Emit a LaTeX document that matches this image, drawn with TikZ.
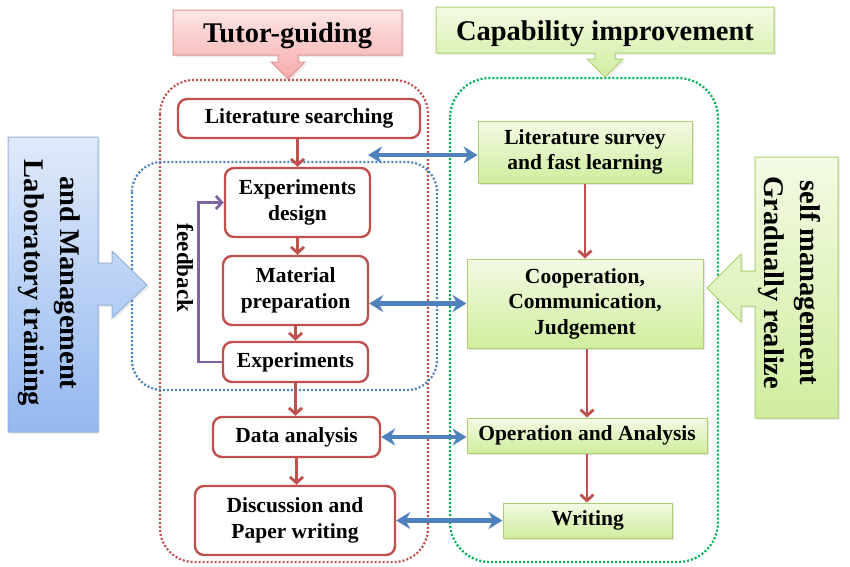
\documentclass[tikz,border=0pt]{standalone}
\usepackage{fontspec}
\setmainfont{Liberation Serif}
\usetikzlibrary{arrows.meta,positioning,shadows}

\definecolor{tgred}{RGB}{192,80,77}
\definecolor{tgblue}{RGB}{79,129,189}
\definecolor{tggreen}{RGB}{0,176,80}
\definecolor{tgpurple}{RGB}{128,100,162}
\definecolor{gntop}{RGB}{244,250,228}
\definecolor{gnbot}{RGB}{208,237,158}
\definecolor{gnline}{RGB}{172,208,112}
\definecolor{pktop}{RGB}{253,230,230}
\definecolor{pkbot}{RGB}{247,170,170}
\definecolor{pkline}{RGB}{217,150,148}
\definecolor{bltop}{RGB}{224,234,250}
\definecolor{blbot}{RGB}{148,184,240}
\definecolor{blline}{RGB}{149,179,215}

\newcommand{\boxfont}{\fontsize{21.5}{25.5}\selectfont\bfseries}
\newcommand{\headfont}{\fontsize{28.5}{36}\selectfont\bfseries}
\newcommand{\fbfont}{\fontsize{23}{26}\selectfont\bfseries}

\tikzset{
  stepnode/.style={draw=tgred,line width=2.4pt,rounded corners=9pt,fill=white,
    align=center,font=\boxfont,inner sep=0pt},
  skillnode/.style={draw=gnline,line width=1pt,top color=gntop,bottom color=gnbot,
    drop shadow={opacity=0.2,shadow xshift=2pt,shadow yshift=-2pt},
    align=center,font=\boxfont,inner sep=0pt},
  flow/.style={-{Straight Barb[length=6pt,width=13pt]},tgred,line width=2.8pt},
  link/.style={{Stealth[length=14pt,width=17pt]}-{Stealth[length=14pt,width=17pt]},
    tgblue,line width=4.2pt},
  fbline/.style={-{Straight Barb[length=6pt,width=13pt]},tgpurple,line width=2.8pt},
  frame/.style={dash pattern=on 2pt off 2pt,line width=2.2pt},
  callout/.style={line width=1pt,drop shadow={opacity=0.15,shadow xshift=2pt,shadow yshift=-2pt}},
}

\begin{document}
\begin{tikzpicture}[x=1pt,y=-1pt]
  \useasboundingbox (0,0) rectangle (850,566);

  % dotted groups
  \draw[frame,tgred,rounded corners=34pt] (160,80) rectangle (428,562);
  \draw[frame,tggreen,rounded corners=40pt] (450,78) rectangle (718,562);
  \draw[frame,tgblue,rounded corners=30pt] (132,162) rectangle (437,390);

  % headings with arrows
  \shade[callout,draw=pkline,top color=pktop,bottom color=pkbot]
    (173,10) -- (402,10) -- (402,55) -- (298,55) -- (298,62) -- (305,62) -- (288,79)
    -- (271,62) -- (278,62) -- (278,55) -- (173,55) -- cycle;
  \node[font=\headfont] (tutor) at (287.5,35.5) {Tutor-guiding};
  \shade[callout,draw=gnline,top color=gntop,bottom color=gnbot]
    (436,7) -- (774,7) -- (774,53) -- (615,53) -- (615,59) -- (623,59) -- (605,77)
    -- (587,59) -- (595,59) -- (595,53) -- (436,53) -- cycle;
  \node[font=\headfont] (capab) at (605,33.5) {Capability improvement};

  % side blocks
  \shade[callout,draw=blline,top color=bltop,bottom color=blbot]
    (8,137) -- (98,137) -- (98,263) -- (112,263) -- (112,251) -- (147,285) -- (112,318)
    -- (112,305) -- (98,305) -- (98,432) -- (8,432) -- cycle;
  \node[rotate=-90,font=\headfont,align=center] (labtrain) at (49,283)
    {and Management\\Laboratory training};
  \shade[callout,draw=gnline,top color=gntop,bottom color=gnbot]
    (755,157) -- (838,157) -- (838,418) -- (755,418) -- (755,306) -- (741,306)
    -- (741,322) -- (707,288) -- (741,254) -- (741,271) -- (755,271) -- cycle;
  \node[rotate=-90,font=\headfont,align=center] (selfman) at (789,283)
    {self management\\Gradually realize};

  % tutor side
  \node[stepnode,minimum width=242pt,minimum height=39pt] (litsearch) at (299,118.5) {Literature searching};
  \node[stepnode,minimum width=145pt,minimum height=69pt] (expdesign) at (297.5,202.5) {Experiments\\design};
  \node[stepnode,minimum width=145pt,minimum height=69pt] (matprep) at (295.5,290.5) {Material\\preparation};
  \node[stepnode,minimum width=145pt,minimum height=40pt] (experiments) at (295.5,362) {Experiments};
  \node[stepnode,minimum width=167pt,minimum height=40pt] (dataanal) at (296.5,437) {Data analysis};
  \node[stepnode,minimum width=200pt,minimum height=69pt] (discuss) at (295,520.5) {Discussion and\\Paper writing};

  % student side
  \node[skillnode,minimum width=214pt,minimum height=62pt] (litsurvey) at (585,152) {Literature survey\\and fast learning};
  \node[skillnode,minimum width=236pt,minimum height=89pt] (coop) at (585,303.5) {Cooperation,\\Communication,\\Judgement};
  \node[skillnode,minimum width=240pt,minimum height=35pt] (operation) at (587,435.5) {Operation and Analysis};
  \node[skillnode,minimum width=169pt,minimum height=35pt] (writing) at (587.5,520.5) {Writing};

  \draw[flow] (expdesign.north |- litsearch.south) -- (expdesign.north);
  \draw[flow] (expdesign.south) -- (expdesign.south |- matprep.north);
  \draw[flow] (matprep.south) -- (matprep.south |- experiments.north);
  \draw[flow] (experiments.south) -- (experiments.south |- dataanal.north);
  \draw[flow] (dataanal.south) -- (dataanal.south |- discuss.north);
  \draw[flow] (litsurvey.south) -- (litsurvey.south |- coop.north);
  \draw[flow] (operation.north |- coop.south) -- (operation.north);
  \draw[flow] (operation.south) -- (operation.south |- writing.north);

  % feedback loop
  \draw[fbline] (experiments.west) -- ++(-23,0) |- (expdesign.west);
  \node[rotate=-90,font=\fbfont] (fb) at (185,268) {feedback};

  % links between the two sides
  \coordinate (gap) at (368,155);
  \draw[link] (gap) -- (gap -| litsurvey.west);
  \draw[link] (coop.west -| matprep.east) -- (coop.west);
  \draw[link] (dataanal.east) -- (dataanal.east -| operation.west);
  \draw[link] (discuss.east) -- (discuss.east -| writing.west);
\end{tikzpicture}
\end{document}
